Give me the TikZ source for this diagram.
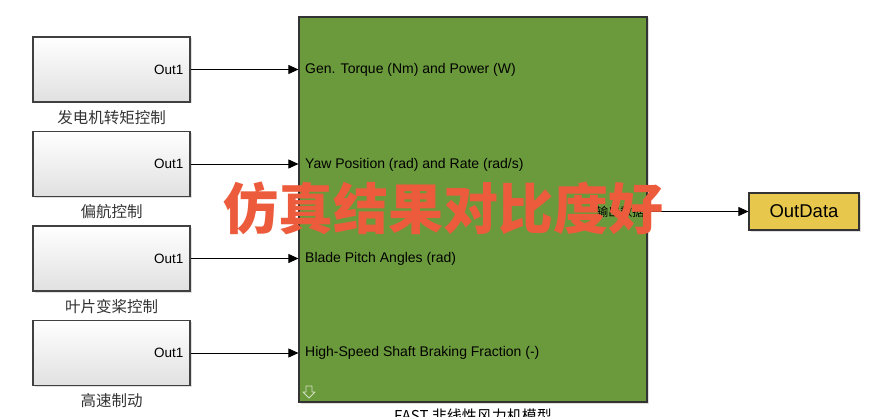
\documentclass[tikz,border=0pt]{standalone}
\usepackage{fontspec}
\setmainfont{Liberation Sans}
\newfontfamily\cjk{Noto Sans CJK SC}
\usetikzlibrary{arrows.meta,shadows}

\definecolor{fastgreen}{HTML}{6B9A3C}
\definecolor{outyellow}{HTML}{E8C84C}
\definecolor{markred}{HTML}{EC5B3C}

\tikzset{
  ctrlblock/.style={draw=black!75, line width=1.2pt, top color=white, bottom color=black!12,
    minimum width=157pt, minimum height=65pt, inner sep=0pt,
    drop shadow={shadow xshift=1.5pt, shadow yshift=-1.5pt, opacity=0.25}},
  sig/.style={line width=0.8pt, -{Triangle[length=10pt,width=9pt]}},
  blocklabel/.style={font=\cjk\fontsize{15.5}{17}\selectfont, text=black!80},
  portlabel/.style={font=\fontsize{14}{16}\selectfont, anchor=west, inner sep=0pt}
}

\begin{document}
\begin{tikzpicture}[x=1pt, y=-1pt]
  \useasboundingbox (0,0) rectangle (886,417);
  \def \portx{305}

  % Draw the wind turbine model
  \node[draw=black!80, line width=1.2pt, fill=fastgreen, minimum width=348pt, minimum height=385pt,
    inner sep=0pt, drop shadow={shadow xshift=1.5pt, shadow yshift=-1.5pt, opacity=0.25}]
    (fast) at (473,209.5) {};
  \node[anchor=north, font=\cjk\fontsize{15}{17}\selectfont] (fastname) at (473,405) {FAST 非线性风力机模型};
  \draw[white!70!fastgreen, line width=0.9pt, line join=round]
    (306,386) -- (312,386) -- (312,392) -- (315,392) -- (309,398) -- (303,392) -- (306,392) -- cycle;

  % Draw the controller blocks
  \node[ctrlblock] (gen) at (111.5,69.5) {};
  \node[ctrlblock] (yaw) at (111.5,164) {};
  \node[ctrlblock] (pitch) at (111.5,258.5) {};
  \node[ctrlblock] (brake) at (111.5,353) {};

  \foreach \blk/\name in {gen/发电机转矩控制, yaw/偏航控制, pitch/叶片变桨控制, brake/高速制动} {
    \node[anchor=east, font=\fontsize{13.5}{15}\selectfont, inner sep=0pt] (\blk out) at ([xshift=-7pt]\blk.east) {Out1};
    \node[blocklabel, anchor=north] (\blk name) at ([yshift=-4pt]\blk.south) {\name};
    \draw[sig] (\blk.east) -- (\blk.east -| fast.west);
  }

  % Input port names
  \node[portlabel] (genin) at (\portx,70) {Gen. Torque (Nm) and Power (W)};
  \node[portlabel] (yawin) at (\portx,164.5) {Yaw Position (rad) and Rate (rad/s)};
  \node[portlabel] (pitchin) at (\portx,259) {Blade Pitch Angles (rad)};
  \node[portlabel] (brakein) at (\portx,353) {High-Speed Shaft Braking Fraction (-)};

  % Draw the output block
  \node[draw=black!80, line width=1.2pt, fill=outyellow, minimum width=110pt, minimum height=37pt,
    inner sep=0pt, font=\fontsize{18.5}{20}\selectfont,
    drop shadow={shadow xshift=1.5pt, shadow yshift=-1.5pt, opacity=0.25}]
    (outdata) at (804,211.5) {OutData};
  \node[anchor=east, font=\cjk\fontsize{12}{14}\selectfont, inner sep=0pt] (fastout) at ([xshift=-3pt]fast.east |- outdata) {输出数据};
  \draw[sig] (fast.east |- outdata) -- (outdata.west);

  % Red overlay text
  \node[text=markred, font=\cjk\bfseries\fontsize{55}{58}\selectfont, inner sep=0pt] (mark) at (443,208) {仿真结果对比度好};
\end{tikzpicture}
\end{document}
